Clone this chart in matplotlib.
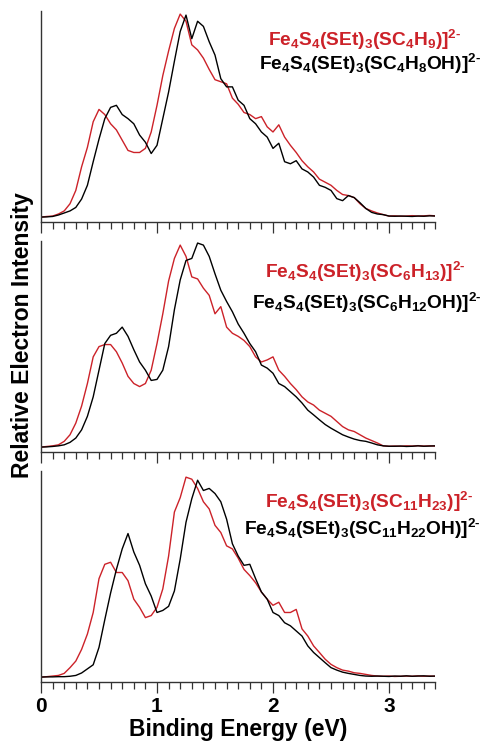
import numpy as np
import matplotlib
matplotlib.use("Agg")
import matplotlib.pyplot as plt
from matplotlib.ticker import MultipleLocator

plt.rcParams['font.family'] = ['Liberation Sans', 'DejaVu Sans']
plt.rcParams['font.weight'] = 'bold'
plt.rcParams['mathtext.fontset'] = 'custom'
plt.rcParams['mathtext.rm'] = 'Liberation Sans:bold'
plt.rcParams['mathtext.bf'] = 'Liberation Sans:bold'
plt.rcParams['mathtext.it'] = 'Liberation Sans:bold'

RED = '#cc2229'
HYPHEN = '\u2010'

# binding energy grid (eV)
energy = np.round(np.arange(0, 3.401, 0.05), 2)

# panel 1 : SC4H9 (red) / SC4H8OH (black)
red_1 = [0.000, 0.003, 0.005, 0.015, 0.030, 0.065, 0.130, 0.245, 0.340, 0.465,
         0.525, 0.500, 0.455, 0.425, 0.375, 0.325, 0.315, 0.315, 0.335, 0.415,
         0.545, 0.690, 0.810, 0.920, 0.990, 0.955, 0.840, 0.815, 0.775, 0.720,
         0.670, 0.660, 0.650, 0.580, 0.550, 0.510, 0.500, 0.480, 0.490, 0.440,
         0.415, 0.450, 0.390, 0.350, 0.315, 0.275, 0.245, 0.220, 0.185, 0.170,
         0.155, 0.130, 0.110, 0.105, 0.095, 0.065, 0.042, 0.030, 0.020, 0.012,
         0.005, 0.006, 0.004, 0.005, 0.007, 0.005, 0.006, 0.008, 0.006]
black_1 = [0.000, 0.001, 0.003, 0.010, 0.020, 0.030, 0.047, 0.088, 0.155, 0.270,
           0.380, 0.480, 0.535, 0.545, 0.500, 0.480, 0.455, 0.400, 0.365, 0.310,
           0.350, 0.480, 0.610, 0.760, 0.905, 0.985, 0.870, 0.955, 0.930, 0.855,
           0.790, 0.675, 0.635, 0.635, 0.570, 0.545, 0.480, 0.455, 0.415, 0.390,
           0.335, 0.360, 0.270, 0.260, 0.275, 0.235, 0.220, 0.195, 0.155, 0.145,
           0.130, 0.090, 0.080, 0.105, 0.095, 0.070, 0.042, 0.023, 0.015, 0.012,
           0.005, 0.004, 0.005, 0.004, 0.003, 0.005, 0.004, 0.006, 0.005]

# panel 2 : SC6H13 (red) / SC6H12OH (black)
red_2 = [0.000, 0.003, 0.006, 0.011, 0.028, 0.060, 0.117, 0.200, 0.310, 0.440,
         0.490, 0.500, 0.500, 0.465, 0.410, 0.345, 0.310, 0.295, 0.310, 0.375,
         0.505, 0.650, 0.810, 0.920, 0.985, 0.930, 0.830, 0.820, 0.775, 0.740,
         0.650, 0.685, 0.585, 0.555, 0.540, 0.520, 0.490, 0.440, 0.415, 0.425,
         0.440, 0.375, 0.345, 0.310, 0.280, 0.245, 0.220, 0.205, 0.180, 0.165,
         0.150, 0.125, 0.100, 0.084, 0.076, 0.060, 0.044, 0.032, 0.020, 0.006,
         0.004, 0.005, 0.004, 0.006, 0.005, 0.007, 0.005, 0.006, 0.005]
black_2 = [0.000, 0.001, 0.003, 0.006, 0.011, 0.023, 0.044, 0.084, 0.150, 0.245,
           0.375, 0.505, 0.545, 0.555, 0.585, 0.540, 0.475, 0.415, 0.375, 0.325,
           0.330, 0.375, 0.490, 0.670, 0.815, 0.910, 0.920, 0.995, 0.985, 0.930,
           0.845, 0.765, 0.710, 0.660, 0.600, 0.555, 0.505, 0.465, 0.400, 0.385,
           0.360, 0.310, 0.295, 0.270, 0.245, 0.215, 0.180, 0.157, 0.133, 0.110,
           0.092, 0.076, 0.060, 0.049, 0.039, 0.032, 0.028, 0.020, 0.011, 0.006,
           0.004, 0.004, 0.005, 0.003, 0.004, 0.006, 0.004, 0.005, 0.006]

# panel 3 : SC11H23 (red) / SC11H22OH (black)
red_3 = [0.000, 0.002, 0.005, 0.008, 0.018, 0.046, 0.078, 0.135, 0.210, 0.315,
         0.480, 0.550, 0.560, 0.510, 0.510, 0.470, 0.380, 0.340, 0.290, 0.300,
         0.340, 0.430, 0.590, 0.805, 0.875, 0.975, 0.965, 0.920, 0.855, 0.820,
         0.740, 0.705, 0.640, 0.625, 0.580, 0.525, 0.495, 0.460, 0.415, 0.380,
         0.350, 0.365, 0.315, 0.315, 0.330, 0.235, 0.200, 0.152, 0.120, 0.087,
         0.062, 0.046, 0.034, 0.029, 0.021, 0.018, 0.013, 0.008, 0.005, 0.004,
         0.005, 0.003, 0.004, 0.005, 0.004, 0.006, 0.004, 0.005, 0.004]
black_3 = [0.000, 0.001, 0.001, 0.002, 0.002, 0.004, 0.008, 0.020, 0.040, 0.060,
           0.145, 0.280, 0.410, 0.525, 0.625, 0.700, 0.610, 0.545, 0.455, 0.395,
           0.315, 0.325, 0.345, 0.420, 0.575, 0.755, 0.870, 0.960, 0.910, 0.920,
           0.895, 0.855, 0.770, 0.650, 0.590, 0.545, 0.550, 0.480, 0.415, 0.380,
           0.315, 0.300, 0.265, 0.250, 0.225, 0.200, 0.152, 0.120, 0.095, 0.070,
           0.046, 0.034, 0.024, 0.018, 0.013, 0.008, 0.005, 0.004, 0.005, 0.004,
           0.003, 0.005, 0.004, 0.006, 0.004, 0.005, 0.006, 0.004, 0.005]

# ligand formulas (mathtext pieces)
red_ligands = ['SC_4H_9', 'SC_6H_{13}', 'SC_{11}H_{23}']
black_ligands = ['SC_4H_8OH', 'SC_6H_{12}OH', 'SC_{11}H_{22}OH']


def cluster_label(ligand):
    return ('$\\mathregular{Fe_4S_4(SEt)_3(' + ligand + ')]^{2' + HYPHEN + '}}$')


reds = [red_1, red_2, red_3]
blacks = [black_1, black_2, black_3]

W, H = 484, 745
fig = plt.figure(figsize=(W / 100, H / 100), dpi=100)

# label anchors in pixels: (red x, red y, black x, black y)
label_pos = [(268, 40, 259, 64), (265, 272, 252, 303), (265, 502, 244, 529)]

for i in range(3):
    axis_y = 222 + 230 * i
    ax = fig.add_axes([41 / W, (H - axis_y) / H, 394.4 / W, 211 / H])
    ax.plot(energy, reds[i], color=RED, lw=1.0)
    ax.plot(energy, blacks[i], color='black', lw=1.0)
    ax.set_xlim(0, 3.4)
    ax.set_ylim(-0.024, 1.005)
    for side in ['top', 'right']:
        ax.spines[side].set_visible(False)
    for side in ['left', 'bottom']:
        ax.spines[side].set_color('#333333')
        ax.spines[side].set_linewidth(1.0)
    ax.set_yticks([])
    ax.xaxis.set_major_locator(MultipleLocator(1))
    ax.xaxis.set_minor_locator(MultipleLocator(0.1))
    ax.tick_params(axis='x', which='major', direction='out', length=8,
                   width=0.9, color='#333333', labelsize=15, pad=3)
    ax.tick_params(axis='x', which='minor', direction='out', length=5,
                   width=0.9, color='#333333')
    if i < 2:
        ax.tick_params(axis='x', labelbottom=False)
    else:
        for lab in ax.get_xticklabels():
            lab.set_fontweight('bold')
        ax.set_xlabel('Binding Energy (eV)', fontsize=16.5, fontweight='bold',
                      labelpad=1)

    rx, ry, bx, by = label_pos[i]
    fig.text(rx / W, 1 - ry / H, cluster_label(red_ligands[i]), color=RED,
             fontsize=13.8, ha='left', va='center')
    fig.text(bx / W, 1 - by / H, cluster_label(black_ligands[i]),
             color='black', fontsize=13.8, ha='left', va='center')

fig.text(23 / W, 1 - 335 / H, 'Relative Electron Intensity', rotation=90,
         fontsize=16.5, fontweight='bold', ha='center', va='center')

fig.savefig('out.png', dpi=100)
